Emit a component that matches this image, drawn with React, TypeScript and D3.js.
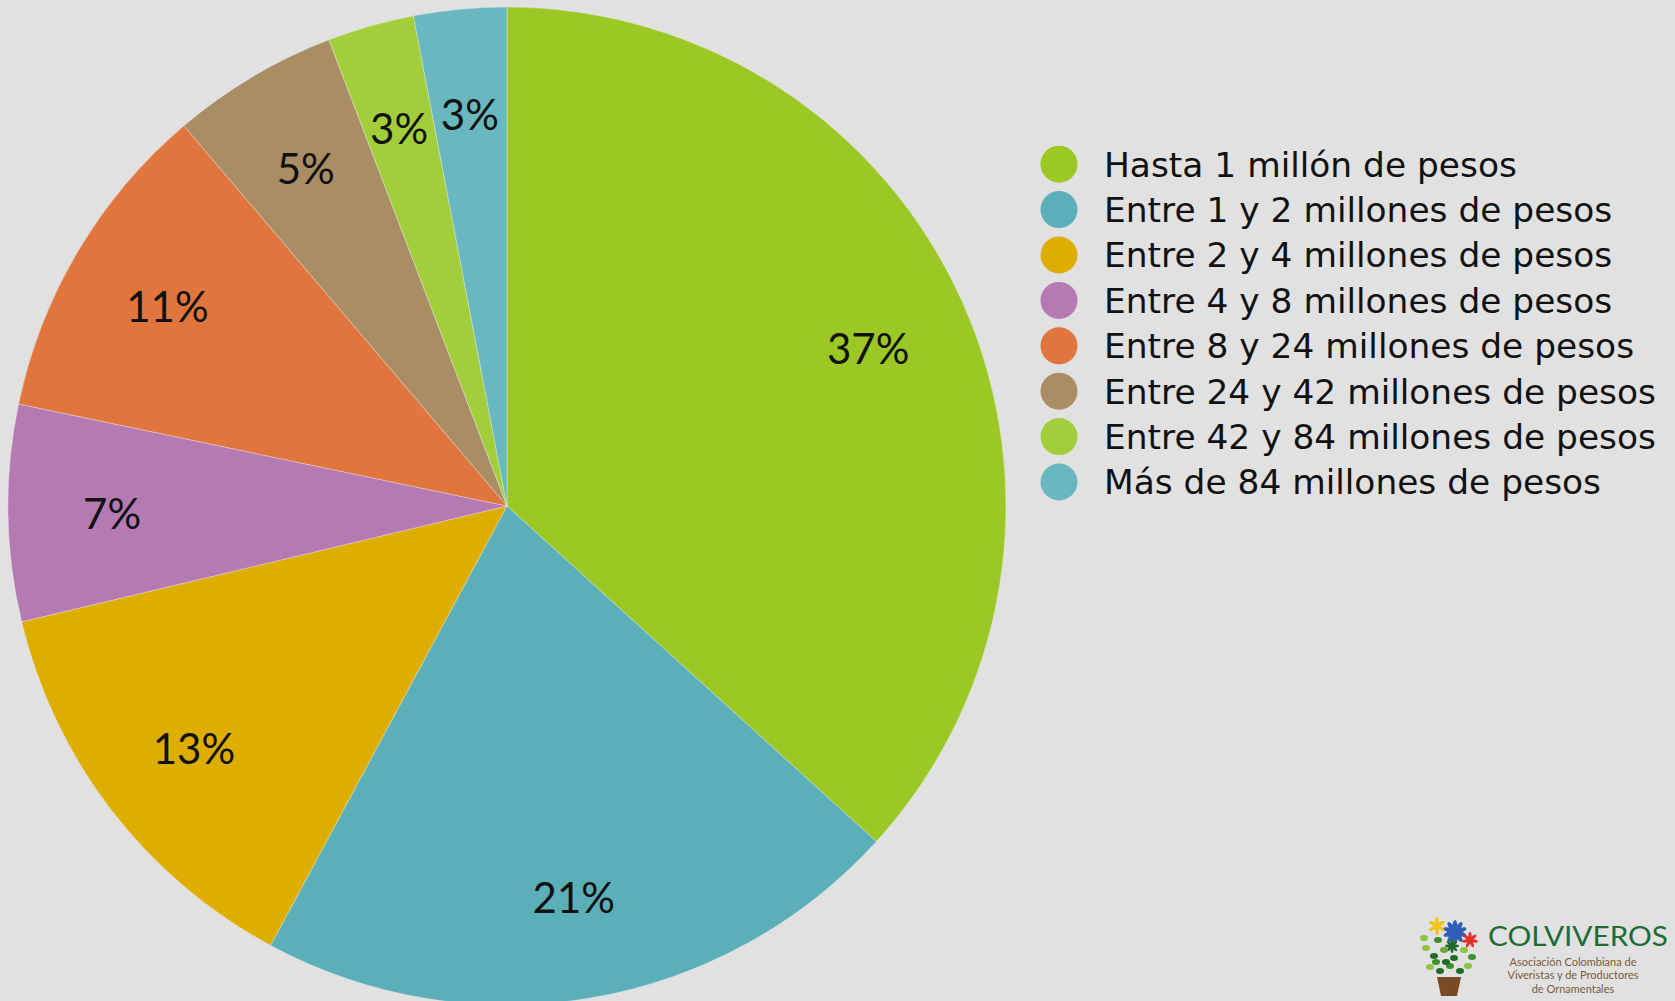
import React from 'react';
import * as d3 from 'd3';

// ingresos por rango (porcentaje)
const categories = [
  'Hasta 1 millón de pesos',
  'Entre 1 y 2 millones de pesos',
  'Entre 2 y 4 millones de pesos',
  'Entre 4 y 8 millones de pesos',
  'Entre 8 y 24 millones de pesos',
  'Entre 24 y 42 millones de pesos',
  'Entre 42 y 84 millones de pesos',
  'Más de 84 millones de pesos',
];
const values = [36.7, 21.1, 13.4, 7.0, 10.5, 5.4, 2.8, 3.0];
const labels = ['37%', '21%', '13%', '7%', '11%', '5%', '3%', '3%'];
const colors = ['#9bc825', '#5aafb8', '#ddad00', '#b57ab2', '#e0763d', '#a98d64', '#a3ce3c', '#69b8c0'];

const W = 1675;
const H = 1001;
const LABEL_FONT = "'Century Gothic', 'URW Gothic', Lato, sans-serif";
const LEGEND_FONT = "'Century Gothic', 'URW Gothic', 'DejaVu Sans', sans-serif";

function Flower({ x, y, r, n, color }: { x: number; y: number; r: number; n: number; color: string }) {
  return (
    <g transform={`translate(${x},${y})`}>
      {d3.range(n).map(i => (
        <ellipse key={i} cx={0} cy={-r / 2} rx={r / 5} ry={r / 2} fill={color}
          transform={`rotate(${(360 / n) * i})`} />
      ))}
    </g>
  );
}

function Logo() {
  // logo de Colviveros abajo a la derecha
  const leaves = [
    [1426, 948, '#8cc63f'], [1434, 956, '#1f6b2a'], [1444, 950, '#6aa83a'], [1454, 958, '#1f6b2a'],
    [1464, 950, '#8cc63f'], [1472, 957, '#3f8f2f'], [1430, 967, '#8cc63f'], [1440, 971, '#1f6b2a'],
    [1450, 966, '#3f8f2f'], [1460, 971, '#1f6b2a'], [1468, 966, '#8cc63f'], [1424, 938, '#8cc63f'],
    [1438, 940, '#3f8f2f'], [1446, 962, '#1f6b2a'], [1436, 962, '#3f8f2f'],
  ];
  return (
    <g>
      <Flower x={1437} y={926} r={9} n={6} color="#f2c318" />
      <Flower x={1455} y={932} r={12} n={10} color="#2f5fb8" />
      <Flower x={1470} y={940} r={8} n={7} color="#e0302a" />
      <Flower x={1452} y={946} r={7} n={8} color="#1f6b2a" />
      {leaves.map((l, i) => (
        <ellipse key={i} cx={l[0] as number} cy={l[1] as number} rx={4} ry={3} fill={l[2] as string} />
      ))}
      <path d="M1437,977 L1461,977 L1457,996 L1441,996 Z" fill="#7a4a24" />
      <text x={1488} y={946} fontFamily={LABEL_FONT} fontSize={27} fill="#1e6b34" textLength={180} lengthAdjust="spacingAndGlyphs">COLVIVEROS</text>
      <g fontFamily={LABEL_FONT} fontSize={11} fill="#7a5a3a" textAnchor="middle">
        <text x={1573} y={966}>Asociación Colombiana de</text>
        <text x={1573} y={979}>Viveristas y de Productores</text>
        <text x={1573} y={993}>de Ornamentales</text>
      </g>
    </g>
  );
}

export default function App() {
  const cx = 507;
  const cy = 506;
  const R = 499;

  const pie = d3.pie<number>().sort(null).value(d => d);
  const arcs = pie(values);
  const arc = d3.arc<d3.PieArcDatum<number>>().innerRadius(0).outerRadius(R);
  const labelArc = d3.arc<d3.PieArcDatum<number>>().innerRadius(395).outerRadius(395);

  const legendY = d3.scaleBand<number>().domain(d3.range(categories.length)).range([141.5, 141.5 + 45.4 * 8]);

  return (
    <svg width={W} height={H} style={{ position: 'absolute', left: 0, top: 0, display: 'block' }}>
      <rect width={W} height={H} fill="#e1e1e1" />
      <g transform={`translate(${cx},${cy})`}>
        {arcs.map((a, i) => (
          <path key={i} d={arc(a) || ''} fill={colors[i]} stroke="#f0f0f0" strokeWidth={0.6} strokeOpacity={0.6} />
        ))}
        {arcs.map((a, i) => {
          const [x, y] = labelArc.centroid(a);
          return (
            <text key={i} x={x} y={y} dy="0.42em" textAnchor="middle" fontFamily={LABEL_FONT} fontSize={42} fill="#111">
              {labels[i]}
            </text>
          );
        })}
      </g>
      <g>
        {categories.map((c, i) => {
          const y = (legendY(i) || 0) + legendY.bandwidth() / 2;
          return (
            <g key={c}>
              <circle cx={1059} cy={y} r={18.5} fill={colors[i]} />
              <text x={1104} y={y} dy="0.36em" fontFamily={LEGEND_FONT} fontSize={34.4} fill="#111">{c}</text>
            </g>
          );
        })}
      </g>
      <Logo />
    </svg>
  );
}
